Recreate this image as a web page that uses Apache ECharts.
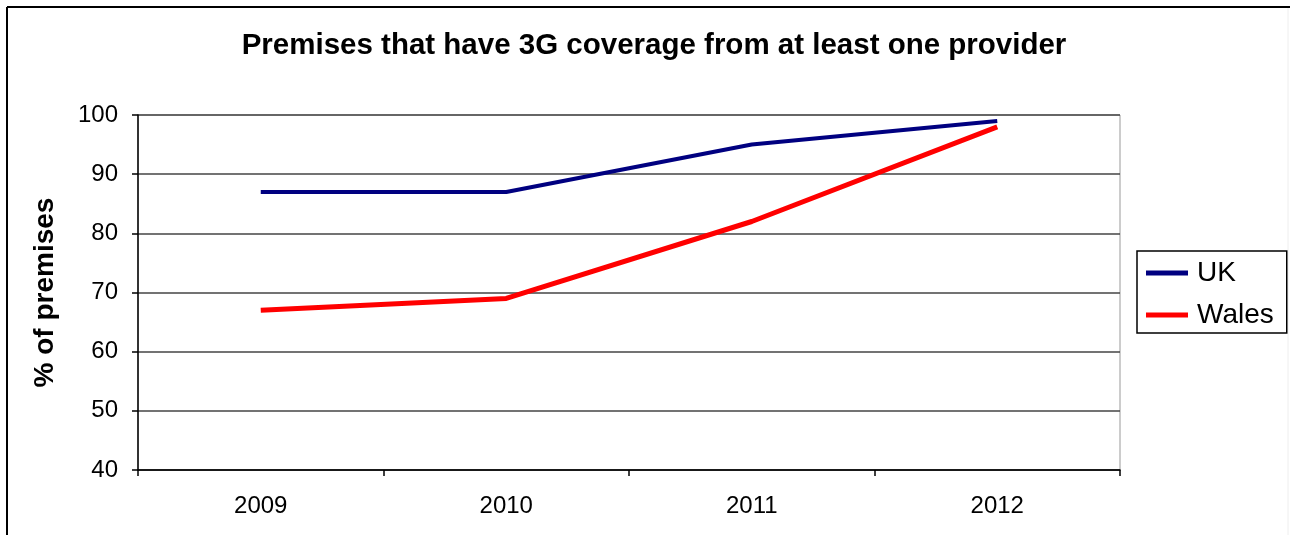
<!DOCTYPE html>
<html><head><meta charset="utf-8">
<script src="https://cdn.jsdelivr.net/npm/echarts@6/dist/echarts.min.js"></script>
<style>html,body{margin:0;padding:0;background:#fff}#c{width:1290px;height:535px}</style>
</head><body><div id="c"></div>
<script>
const categories = ['2009', '2010', '2011', '2012'];
const ukValues = [87, 87, 95, 99];
const walesValues = [67, 69, 82, 98];
const seriesNames = ['UK', 'Wales'];
const titleText = 'Premises that have 3G coverage from at least one provider';
const yAxisTitle = '% of premises';

const chart = echarts.init(document.getElementById('c'));
const font = '"Liberation Sans", Arial, sans-serif';
chart.setOption({
  animation: false,
  backgroundColor: '#fff',
  title: {
    text: titleText, left: 649, top: 26, textAlign: 'center',
    textStyle: {fontFamily: font, fontSize: 29.5, fontWeight: 'bold', color: '#000'}
  },
  graphic: [
    {type: 'line', shape: {x1: 7, y1: 7, x2: 1290, y2: 7}, style: {stroke: '#000', lineWidth: 2}},
    {type: 'line', shape: {x1: 7, y1: 7, x2: 7, y2: 535}, style: {stroke: '#000', lineWidth: 2}},
    {type: 'line', shape: {x1: 1288, y1: 8, x2: 1288, y2: 535}, style: {stroke: '#eee', lineWidth: 1}}
  ],
  legend: {
    orient: 'vertical', left: 1137, top: 251,
    padding: [8, 13, 4, 9], itemGap: 14, itemWidth: 42, itemHeight: 5,
    borderColor: '#000', borderWidth: 1.5,
    icon: 'rect',
    textStyle: {fontFamily: font, fontSize: 28, color: '#000', padding: [0, 0, 0, 4]},
    data: seriesNames
  },
  grid: {left: 138, right: 170, top: 115, bottom: 65, show: true, borderColor: '#999', borderWidth: 1, backgroundColor: '#fff'},
  xAxis: {
    type: 'category', data: categories, boundaryGap: true,
    axisLine: {lineStyle: {color: '#000', width: 1.5}},
    axisTick: {show: true, length: 6, lineStyle: {color: '#000', width: 1.5}},
    axisLabel: {fontFamily: font, fontSize: 24, color: '#000', margin: 24}
  },
  yAxis: {
    type: 'value', min: 40, max: 100, interval: 10,
    name: yAxisTitle, nameLocation: 'middle', nameGap: 79, nameRotate: 90,
    nameTextStyle: {fontFamily: font, fontSize: 28, fontWeight: 'bold', color: '#000'},
    axisLine: {show: true, lineStyle: {color: '#000', width: 1.5}},
    axisTick: {show: true, length: 6, lineStyle: {color: '#000', width: 1.5}},
    axisLabel: {fontFamily: font, fontSize: 24, color: '#000', margin: 20},
    splitLine: {lineStyle: {color: '#444', width: 1.5}}
  },
  series: [
    {name: seriesNames[0], type: 'line', data: ukValues, symbol: 'none', color: '#000080',
     lineStyle: {width: 4, color: '#000080'}},
    {name: seriesNames[1], type: 'line', data: walesValues, symbol: 'none', color: '#ff0000',
     lineStyle: {width: 5, color: '#ff0000'}}
  ]
});
</script></body></html>
